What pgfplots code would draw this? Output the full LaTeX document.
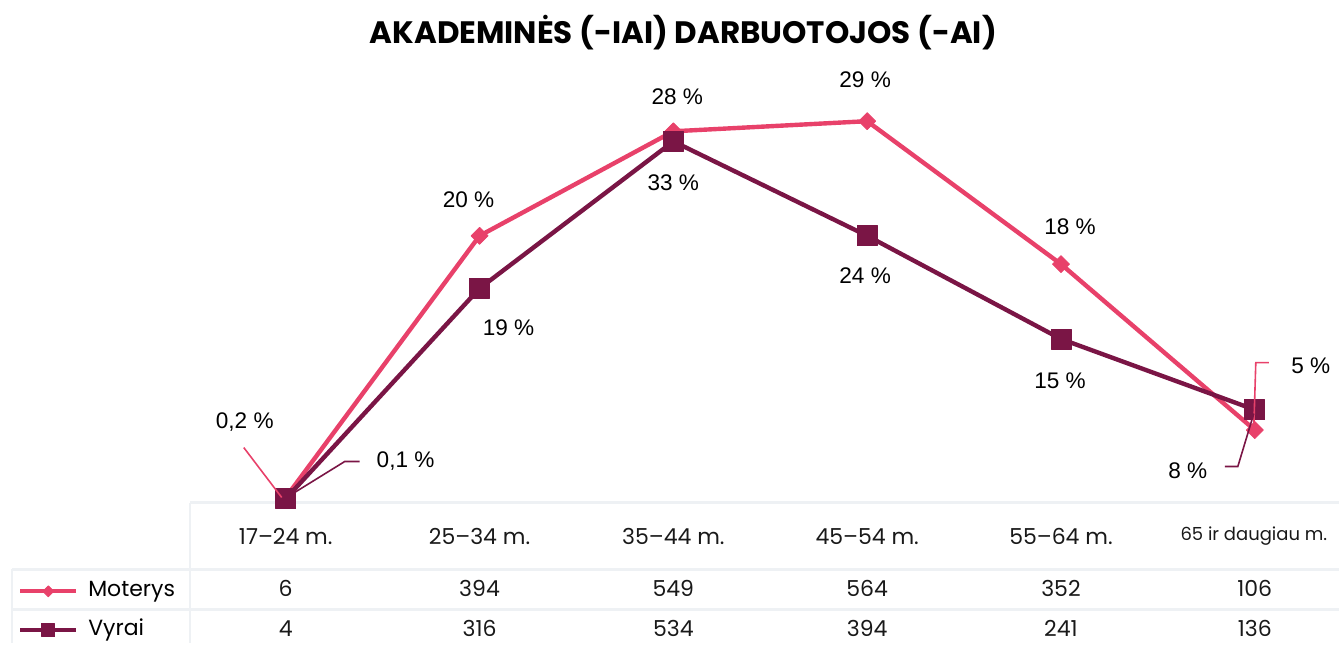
\documentclass[border=0pt]{standalone}
\usepackage{fontspec}
\setmainfont{Poppins}
\newfontfamily\lab{Liberation Sans}
\usepackage{pgfplots}
\pgfplotsset{compat=1.18}
\definecolor{mpink}{HTML}{E8416A}
\definecolor{mvyr}{HTML}{7A1545}
\definecolor{gridc}{HTML}{EEF1F4}
\begin{document}
\begin{tikzpicture}
% table grid (pixel coordinates, origin top-left)
\begin{scope}[shift={(0,322pt)},x=0.5pt,y=-0.5pt]
 \draw[gridc, line width=1.3pt] (190,503)--(1340,503);
 \draw[gridc, line width=1.3pt] (12,570)--(1340,570);
 \draw[gridc, line width=1.3pt] (12,610)--(1340,610);
 \draw[gridc, line width=1.3pt] (190,503)--(190,644);
 \draw[gridc, line width=1.3pt] (12,570)--(12,644);
\end{scope}
\begin{axis}[at={(0,0)}, anchor=south west,
  x=97pt, y=0.3375pt,
  xmin=-1.47423, xmax=5.43299, ymin=-210.37, ymax=743.70,
  hide axis, clip=false,
  legend style={at={(axis cs:-1.3814,-118.5)}, anchor=north west, draw=none, fill=none,
    inner sep=0pt, font=\fontsize{11}{13}\selectfont,
    nodes={inner sep=0pt, text height=7.5pt, text depth=2pt},
    row sep=10pt, column sep=5pt},
  legend cell align=left,
  legend image code/.code={\draw[#1, line width=2pt, mark repeat=2, mark phase=2, every mark/.append style={scale=0.65}] plot coordinates {(0pt,0pt)(14pt,0pt)(28pt,0pt)};}
]
\addplot[mpink, line width=2.2pt, line join=round, mark=square*, mark size=3pt, mark options={rotate=45, line width=0.4pt}]
  coordinates {(0,6)(1,394)(2,549)(3,564)(4,352)(5,106)};
\addlegendentry{Moterys}
\addplot[mvyr, line width=2.2pt, line join=round, mark=square*, mark size=5pt, mark options={line width=0.4pt}]
  coordinates {(0,4)(1,316)(2,534)(3,394)(4,241)(5,136)};
\addlegendentry{Vyrai}
\path (rel axis cs:0,0) rectangle (rel axis cs:1,1);
\end{axis}
\begin{scope}[shift={(0,322pt)},x=0.5pt,y=-0.5pt]
 % title
 \node[font=\bfseries\fontsize{15.5}{18}\selectfont] at (684,33) {AKADEMINĖS (-IAI) DARBUOTOJOS (-AI)};
 % leader lines
 \draw[mpink, line width=0.8pt] (244,448)--(282,498);
 \draw[mvyr, line width=0.8pt] (360,462)--(345,462)--(290,496);
 \draw[mpink, line width=0.8pt] (1270,363)--(1257,363)--(1255,428);
 \draw[mvyr, line width=0.8pt] (1226,467)--(1239,467)--(1255,414);
 % percentage labels
 \begin{scope}[every node/.style={font=\lab\fontsize{11.3}{13}\selectfont, text=black}]
  \node at (245,422) {0,2 \%};
  \node at (469,200) {20 \%};
  \node at (678,97) {28 \%};
  \node at (866,80) {29 \%};
  \node at (1071,227) {18 \%};
  \node at (1312,366) {5 \%};
  \node at (406,462) {0,1 \%};
  \node at (509,328) {19 \%};
  \node at (674,183) {33 \%};
  \node at (866,276) {24 \%};
  \node at (1061,381) {15 \%};
  \node at (1189,471) {8 \%};
 \end{scope}
 % table text
 \begin{scope}[every node/.style={font=\fontsize{11}{13}\selectfont, text=black!90}]
  \node at (286,537) {17–24 m.};
  \node at (480,537) {25–34 m.};
  \node at (674,537) {35–44 m.};
  \node at (868,537) {45–54 m.};
  \node at (1062,537) {55–64 m.};
  \node[font=\fontsize{9}{11}\selectfont] at (1255,537) {65 ir daugiau m.};
  \node at (286,589) {6};
  \node at (480,589) {394};
  \node at (674,589) {549};
  \node at (868,589) {564};
  \node at (1062,589) {352};
  \node at (1256,589) {106};
  \node at (286,629) {4};
  \node at (480,629) {316};
  \node at (674,629) {534};
  \node at (868,629) {394};
  \node at (1062,629) {241};
  \node at (1256,629) {136};
 \end{scope}
\end{scope}
\end{tikzpicture}
\end{document}
